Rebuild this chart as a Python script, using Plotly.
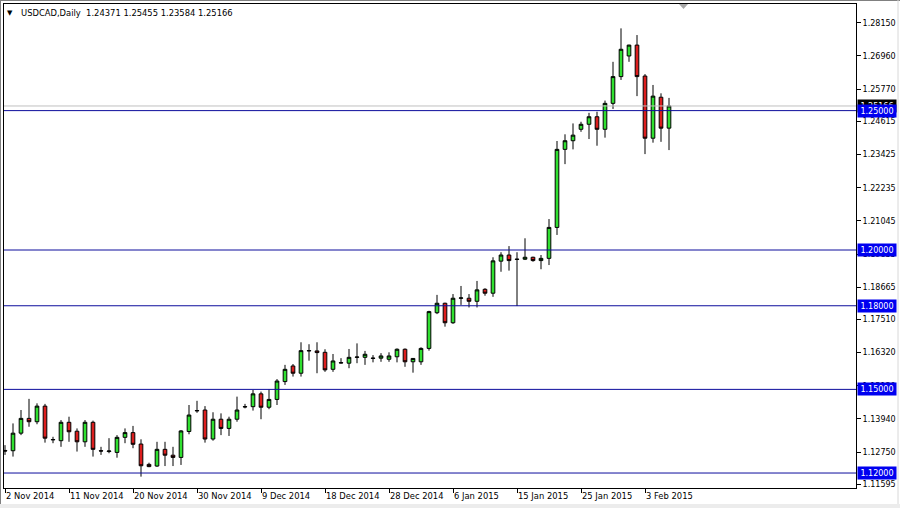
import datetime as dt
import plotly.graph_objects as go

# ---------------- data (USDCAD daily) ----------------
opens = [1.1281, 1.1280, 1.1343, 1.1396, 1.1384, 1.1440, 1.1319, 1.1316, 1.1382, 1.1350,
         1.1312, 1.1382, 1.1280, 1.1277, 1.1274, 1.1328, 1.1345, 1.1304, 1.1231, 1.1225,
         1.1285, 1.1264, 1.1256, 1.1349, 1.1423, 1.1426, 1.1322, 1.1393, 1.1360, 1.1393,
         1.1437, 1.1438, 1.1484, 1.1436, 1.1464, 1.1528, 1.1584, 1.1558, 1.1638, 1.1638,
         1.1633, 1.1572, 1.1596, 1.1594, 1.1615, 1.1615, 1.1611, 1.1612, 1.1608, 1.1617,
         1.1644, 1.1599, 1.1599, 1.1647, 1.1775, 1.1809, 1.1739, 1.1827, 1.1827, 1.1816,
         1.1859, 1.1845, 1.1960, 1.1982, 1.1966, 1.1967, 1.1974, 1.1962, 1.1970, 1.2081,
         1.2361, 1.2392, 1.2433, 1.2451, 1.2478, 1.2433, 1.2526, 1.2622, 1.2696, 1.2735,
         1.2624, 1.2401, 1.2548, 1.24371]
highs = [1.1300, 1.1378, 1.1426, 1.1466, 1.1450, 1.1448, 1.1330, 1.1390, 1.1402, 1.1360,
         1.1390, 1.1388, 1.1294, 1.1325, 1.1336, 1.1360, 1.1369, 1.1321, 1.1237, 1.1312,
         1.1312, 1.1294, 1.1354, 1.1444, 1.1459, 1.1440, 1.1418, 1.1414, 1.1402, 1.1474,
         1.1448, 1.1498, 1.1492, 1.1500, 1.1537, 1.1588, 1.1591, 1.1669, 1.1662, 1.1669,
         1.1644, 1.1627, 1.1612, 1.1645, 1.1665, 1.1638, 1.1623, 1.1630, 1.1633, 1.1647,
         1.1647, 1.1612, 1.1651, 1.1782, 1.1839, 1.1811, 1.1842, 1.1871, 1.1842, 1.1889,
         1.1863, 1.1974, 1.1992, 1.2014, 1.1992, 1.2042, 1.1976, 1.1982, 1.2111, 1.2391,
         1.2415, 1.2454, 1.2460, 1.2492, 1.2496, 1.2536, 1.2675, 1.2795, 1.2736, 1.2771,
         1.2631, 1.2592, 1.2562, 1.25455]
lows = [1.1265, 1.1259, 1.1336, 1.1366, 1.1375, 1.1309, 1.1307, 1.1294, 1.1312, 1.1277,
        1.1294, 1.1259, 1.1265, 1.1271, 1.1255, 1.1307, 1.1289, 1.1187, 1.1221, 1.1222,
        1.1225, 1.1225, 1.1229, 1.1339, 1.1416, 1.1309, 1.1316, 1.1336, 1.1333, 1.1384,
        1.1432, 1.1424, 1.1393, 1.1429, 1.1444, 1.1516, 1.1546, 1.1546, 1.1603, 1.1558,
        1.1563, 1.1563, 1.1593, 1.1576, 1.1594, 1.1588, 1.1597, 1.1599, 1.1599, 1.1597,
        1.1581, 1.1560, 1.1588, 1.1639, 1.1770, 1.1725, 1.1735, 1.1803, 1.1794, 1.1794,
        1.1836, 1.1832, 1.1922, 1.1926, 1.1799, 1.1964, 1.1958, 1.1931, 1.1946, 1.2054,
        1.2308, 1.2361, 1.2424, 1.2398, 1.2374, 1.2403, 1.2506, 1.2610, 1.2675, 1.2552,
        1.2344, 1.2385, 1.2388, 1.23584]
closes = [1.1279, 1.1343, 1.1396, 1.1384, 1.1440, 1.1325, 1.1320, 1.1382, 1.1348, 1.1312,
          1.1382, 1.1285, 1.1279, 1.1279, 1.1328, 1.1345, 1.1303, 1.1226, 1.1223, 1.1285,
          1.1264, 1.1256, 1.1351, 1.1408, 1.1424, 1.1322, 1.1393, 1.1360, 1.1393, 1.1426,
          1.1438, 1.1484, 1.1436, 1.1464, 1.1530, 1.1572, 1.1558, 1.1639, 1.1639, 1.1632,
          1.1570, 1.1602, 1.1595, 1.1615, 1.1616, 1.1626, 1.1612, 1.1620, 1.1620, 1.1644,
          1.1599, 1.1611, 1.1647, 1.1779, 1.1809, 1.1739, 1.1827, 1.1828, 1.1816, 1.1857,
          1.1845, 1.1961, 1.1982, 1.1962, 1.1967, 1.1974, 1.1962, 1.1970, 1.2081, 1.2361,
          1.2392, 1.2412, 1.2451, 1.2478, 1.2433, 1.2526, 1.2622, 1.2720, 1.2735, 1.2622,
          1.2401, 1.2552, 1.2437, 1.25166]

level_prices = [1.25, 1.20, 1.18, 1.15, 1.12]
bid_price = 1.25166
price_ticks = [1.28150, 1.26960, 1.25770, 1.24615, 1.23425, 1.22235, 1.21045, 1.19855,
               1.18665, 1.17510, 1.16320, 1.15130, 1.13940, 1.12750, 1.11595]
title_text = "USDCAD,Daily  1.24371 1.25455 1.23584 1.25166"

# trading days (MT4 feed includes Sunday bars, no Saturdays)
dates = []
d = dt.date(2014, 11, 2)
while len(dates) < len(opens):
    if d.weekday() != 5:
        dates.append(d)
    d += dt.timedelta(days=1)
xcat = [x.isoformat() for x in dates]
tick_idx = list(range(0, len(dates), 8))
tick_vals = [xcat[i] for i in tick_idx]
tick_text = [f"{dates[i].day} {dates[i].strftime('%b')} {dates[i].year}" for i in tick_idx]

# ---------------- figure ----------------
W, H = 900, 508
L, R, T, B = 4, 44, 4, 20
pw, ph = W - L - R, H - T - B

def px_x(p):
    return (p - L) / pw

def px_y(p):
    return (H - B - p) / ph

FONT = "DejaVu Sans, Verdana, sans-serif"

fig = go.Figure()
fig.add_trace(go.Candlestick(
    x=xcat, open=opens, high=highs, low=lows, close=closes,
    increasing=dict(fillcolor="#30e030", line=dict(color="black", width=1)),
    decreasing=dict(fillcolor="#dc1e1e", line=dict(color="black", width=1)),
    whiskerwidth=0, showlegend=False, hoverinfo="skip",
))

shapes = []
shapes.append(dict(type="line", xref="paper", x0=0, x1=1, yref="y", y0=bid_price, y1=bid_price,
                   line=dict(color="#c0c0c0", width=1), layer="above"))
for lv in level_prices:
    shapes.append(dict(type="line", xref="paper", x0=0, x1=1, yref="y", y0=lv, y1=lv,
                       line=dict(color="#0c0c9c", width=1), layer="above"))
# window borders
shapes.append(dict(type="rect", xref="paper", yref="paper", x0=px_x(0), x1=px_x(W),
                   y0=px_y(H), y1=px_y(504), fillcolor="#ececec", line=dict(width=0), layer="below"))
shapes.append(dict(type="line", xref="paper", yref="paper", x0=px_x(0.5), x1=px_x(0.5),
                   y0=px_y(0), y1=px_y(504), line=dict(color="#808080", width=1)))
shapes.append(dict(type="line", xref="paper", yref="paper", x0=px_x(0), x1=px_x(W),
                   y0=px_y(0.5), y1=px_y(0.5), line=dict(color="#808080", width=1)))
shapes.append(dict(type="line", xref="paper", yref="paper", x0=px_x(898), x1=px_x(898),
                   y0=px_y(0), y1=px_y(504), line=dict(color="#d8d8d8", width=1)))
# chart-shift marker
shapes.append(dict(type="path", xref="paper", yref="paper",
                   path=f"M {px_x(679)} {px_y(4)} L {px_x(688)} {px_y(4)} L {px_x(683.5)} {px_y(9)} Z",
                   fillcolor="#a8a8a8", line=dict(width=0)))

ann = []
ann.append(dict(xref="paper", yref="paper", x=px_x(5), y=px_y(13), xanchor="left", yanchor="middle",
                text="▼", showarrow=False, font=dict(family=FONT, size=7, color="black")))
ann.append(dict(xref="paper", yref="paper", x=px_x(19), y=px_y(13), xanchor="left", yanchor="middle",
                text=title_text.replace("  ", "&nbsp; "), showarrow=False,
                font=dict(family=FONT, size=8.4, color="black")))
ann.append(dict(xref="paper", yref="y", x=px_x(857), y=bid_price, xanchor="left", yanchor="middle",
                text=f"{bid_price:.5f}", showarrow=False, bgcolor="#000000", width=36, height=10,
                borderpad=1, font=dict(family=FONT, size=8, color="white")))
for lv in level_prices:
    ann.append(dict(xref="paper", yref="y", x=px_x(857), y=lv, xanchor="left", yanchor="middle",
                    text=f"{lv:.5f}", showarrow=False, bgcolor="#0000f0", width=36, height=10,
                    borderpad=1, font=dict(family=FONT, size=8, color="white")))

fig.update_layout(
    width=W, height=H,
    margin=dict(l=L, r=R, t=T, b=B, pad=0, autoexpand=False),
    paper_bgcolor="white", plot_bgcolor="white",
    showlegend=False, boxgap=0.35,
    shapes=shapes, annotations=ann,
    xaxis=dict(type="category", range=[-0.125, 106.375], rangeslider=dict(visible=False),
               tickvals=tick_vals, ticktext=tick_text, ticks="outside", ticklen=4,
               tickcolor="black", ticklabelposition="outside right", automargin=False,
               showgrid=False, zeroline=False, showline=True, linecolor="black", linewidth=1,
               mirror=True, tickfont=dict(family=FONT, size=8.4, color="black"), fixedrange=True),
    yaxis=dict(side="right", range=[1.11463, 1.28824], tickvals=price_ticks,
               ticktext=[f"{p:.5f}" for p in price_ticks], ticks="outside", ticklen=4,
               tickcolor="black", showgrid=False, zeroline=False, showline=True,
               linecolor="black", linewidth=1, mirror=True, automargin=False,
               tickfont=dict(family=FONT, size=8, color="black"), fixedrange=True),
)

fig.write_html("out.html", config={"displayModeBar": False},
               post_script="document.body.style.margin='0';document.body.style.padding='0';"
                           "document.body.style.overflow='hidden';")
